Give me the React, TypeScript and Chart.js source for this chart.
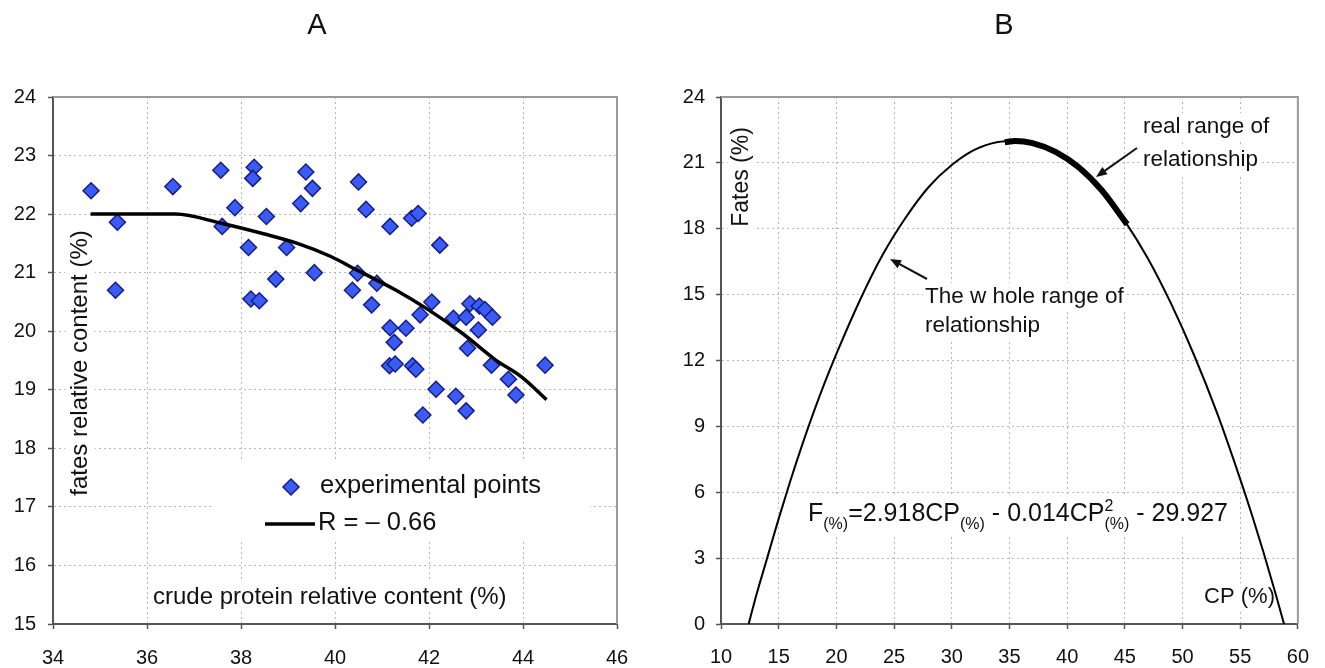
import React, { useEffect, useRef } from "react";
import { Chart, registerables } from "chart.js";

Chart.register(...registerables);

const FONT = "'Liberation Sans', Arial, Helvetica, sans-serif";

// ---------- Panel A data ----------
const crudeProtein = [
  34.81, 35.37, 35.33, 36.55, 37.57, 37.6, 37.87, 38.28, 38.25, 38.16, 38.21, 38.39, 38.54, 38.74,
  38.97, 39.38, 39.52, 39.27, 39.56, 40.37, 40.5, 40.66, 41.17, 41.63, 41.77, 42.23, 40.48, 40.89,
  40.78, 41.17, 41.51, 41.26, 41.81, 42.06, 42.52, 42.79, 42.87, 43.07, 43.19, 43.35, 43.05, 42.82,
  41.16, 41.28, 41.65, 41.72, 43.33, 44.47, 43.69, 43.85, 42.15, 42.57, 42.79, 41.87,
];
const fatesContent = [
  22.4, 21.86, 20.7, 22.47, 22.75, 21.79, 22.11, 22.8, 22.61, 21.43, 20.55, 20.52, 21.96, 20.89,
  21.43, 22.72, 22.44, 22.18, 21.0, 20.7, 22.55, 22.08, 21.79, 21.93, 22.01, 21.47, 20.99, 20.82,
  20.45, 20.06, 20.05, 19.81, 20.28, 20.5, 20.22, 20.24, 20.47, 20.43, 20.37, 20.24, 20.02, 19.71,
  19.41, 19.44, 19.41, 19.35, 19.42, 19.42, 19.18, 18.91, 19.01, 18.89, 18.64, 18.57,
];
const fitCP = [34.8, 36.6, 37.6, 38.5, 39.2, 39.9, 40.5, 41.3, 42.0, 42.7, 43.4, 44.0, 44.5];
const fitFates = [22.0, 22.0, 21.84, 21.66, 21.5, 21.28, 21.03, 20.7, 20.36, 19.97, 19.52, 19.2, 18.83];
const pointsLabel = "experimental points";
const fitLabel = "R = \u2013 0.66";

// ---------- Panel B data ----------
const wholeCP = [
  12.4, 13, 14, 15, 16, 17, 18, 19, 20, 22, 24, 26, 28, 30, 32, 34, 35.5, 37, 39, 41, 43, 45, 47, 49,
  51, 53, 55, 56, 57, 58, 58.8,
];
const wholeFates = [
  0, 1.2, 3.0, 4.8, 6.5, 8.1, 9.6, 11.0, 12.3, 14.7, 16.8, 18.5, 19.9, 20.9, 21.6, 21.95, 22.0, 21.9,
  21.5, 20.8, 19.75, 18.35, 16.65, 14.6, 12.25, 9.6, 6.6, 5.0, 3.3, 1.5, 0,
];
const realCP = [34.6, 35.5, 37, 39, 41, 43, 45.2];
const realFates = [21.94, 22.0, 21.9, 21.5, 20.8, 19.75, 18.2];

const MARKER_FILL = "#3b5cf2";
const MARKER_EDGE = "#161c8c";
const GRID = "#b8b8b8";
const AXIS = "#555555";
const FRAME = "#9a9a9a";

function pairs(xs: number[], ys: number[]) {
  return xs.map((x, i) => ({ x, y: ys[i] }));
}

function whiteText(ctx: CanvasRenderingContext2D, text: string, x: number, yc: number, size: number, align: CanvasTextAlign = "left") {
  ctx.save();
  ctx.font = `${size}px ${FONT}`;
  const w = ctx.measureText(text).width;
  const left = align === "left" ? x : align === "right" ? x - w : x - w / 2;
  ctx.fillStyle = "#fff";
  ctx.fillRect(left - 2, yc - size * 0.62, w + 4, size * 1.24);
  ctx.fillStyle = "#111";
  ctx.textAlign = "left";
  ctx.textBaseline = "middle";
  ctx.fillText(text, left, yc);
  ctx.restore();
}

function rotatedText(ctx: CanvasRenderingContext2D, text: string, cx: number, cy: number, size: number) {
  ctx.save();
  ctx.translate(cx, cy);
  ctx.rotate(-Math.PI / 2);
  ctx.font = `${size}px ${FONT}`;
  const w = ctx.measureText(text).width;
  ctx.fillStyle = "#fff";
  ctx.fillRect(-w / 2 - 2, -size * 0.62, w + 4, size * 1.24);
  ctx.fillStyle = "#111";
  ctx.textAlign = "center";
  ctx.textBaseline = "middle";
  ctx.fillText(text, 0, 0);
  ctx.restore();
}

function frame(chart: any) {
  const { ctx, chartArea: a } = chart;
  ctx.save();
  ctx.strokeStyle = FRAME;
  ctx.lineWidth = 2;
  ctx.beginPath();
  ctx.moveTo(a.left, a.top);
  ctx.lineTo(a.right, a.top);
  ctx.lineTo(a.right, a.bottom);
  ctx.stroke();
  ctx.restore();
}

function title(ctx: CanvasRenderingContext2D, t: string, x: number, y: number) {
  ctx.save();
  ctx.font = `29px ${FONT}`;
  ctx.fillStyle = "#111";
  ctx.textAlign = "center";
  ctx.textBaseline = "middle";
  ctx.fillText(t, x, y);
  ctx.restore();
}

function arrow(ctx: CanvasRenderingContext2D, x1: number, y1: number, x2: number, y2: number) {
  const ang = Math.atan2(y2 - y1, x2 - x1);
  const L = 11;
  const Wd = 4.5;
  ctx.save();
  ctx.strokeStyle = "#111";
  ctx.fillStyle = "#111";
  ctx.lineWidth = 2;
  ctx.beginPath();
  ctx.moveTo(x1, y1);
  ctx.lineTo(x2 - Math.cos(ang) * L * 0.8, y2 - Math.sin(ang) * L * 0.8);
  ctx.stroke();
  ctx.beginPath();
  ctx.moveTo(x2, y2);
  ctx.lineTo(x2 - Math.cos(ang) * L - Math.sin(ang) * Wd, y2 - Math.sin(ang) * L + Math.cos(ang) * Wd);
  ctx.lineTo(x2 - Math.cos(ang) * L + Math.sin(ang) * Wd, y2 - Math.sin(ang) * L - Math.cos(ang) * Wd);
  ctx.closePath();
  ctx.fill();
  ctx.restore();
}

function drawEquation(ctx: CanvasRenderingContext2D, x: number, base: number) {
  const main = `25px ${FONT}`;
  const small = `16px ${FONT}`;
  const parts: [string, string, number][] = [
    ["F", main, 0],
    ["(%)", small, 8],
    ["=2.918CP", main, 0],
    ["(%)", small, 8],
    [" - 0.014CP", main, 0],
    ["(%)", small, 8],
    [" - 29.927", main, 0],
  ];
  ctx.save();
  let total = 0;
  for (const [t, f] of parts) {
    ctx.font = f;
    total += ctx.measureText(t).width;
  }
  ctx.fillStyle = "#fff";
  ctx.fillRect(x - 3, base - 25, total + 6, 38);
  ctx.fillStyle = "#111";
  ctx.textBaseline = "alphabetic";
  ctx.textAlign = "left";
  let cx = x;
  parts.forEach(([t, f, dy], i) => {
    ctx.font = f;
    if (i === 5) ctx.fillText("2", cx, base - 10);
    ctx.fillText(t, cx, base + dy);
    cx += ctx.measureText(t).width;
  });
  ctx.restore();
}

const pluginA = {
  id: "panelA",
  beforeDatasetsDraw(chart: any) {
    const ctx = chart.ctx as CanvasRenderingContext2D;
    frame(chart);
    ctx.save();
    ctx.fillStyle = "#fff";
    ctx.fillRect(212, 461, 378, 80);
    ctx.restore();
    ctx.save();
    ctx.fillStyle = MARKER_FILL;
    ctx.strokeStyle = MARKER_EDGE;
    ctx.lineWidth = 1.5;
    ctx.beginPath();
    ctx.moveTo(291, 487 - 8);
    ctx.lineTo(291 + 8, 487);
    ctx.lineTo(291, 487 + 8);
    ctx.lineTo(291 - 8, 487);
    ctx.closePath();
    ctx.fill();
    ctx.stroke();
    ctx.strokeStyle = "#000";
    ctx.lineWidth = 3.5;
    ctx.beginPath();
    ctx.moveTo(265, 524);
    ctx.lineTo(315, 524);
    ctx.stroke();
    ctx.restore();
    whiteText(ctx, pointsLabel, 320, 486, 25.5);
    whiteText(ctx, fitLabel, 318, 523, 25.5);
    whiteText(ctx, "crude protein relative content (%)", 153, 597, 24);
    rotatedText(ctx, "fates relative content (%)", 80, 363, 24);
  },
  afterDraw(chart: any) {
    title(chart.ctx, "A", 317, 26);
  },
};

const pluginB = {
  id: "panelB",
  beforeDatasetsDraw(chart: any) {
    const ctx = chart.ctx as CanvasRenderingContext2D;
    frame(chart);
    whiteText(ctx, "real range of", 481, 127, 22.5);
    whiteText(ctx, "relationship", 481, 160, 22.5);
    whiteText(ctx, "The w hole range of", 263, 297, 22.5);
    whiteText(ctx, "relationship", 263, 326, 22.5);
    whiteText(ctx, "CP (%)", 613, 597, 22, "right");
    rotatedText(ctx, "Fates (%)", 80, 177, 23);
    drawEquation(ctx, 146, 521);
  },
  afterDatasetsDraw(chart: any) {
    const ctx = chart.ctx as CanvasRenderingContext2D;
    arrow(ctx, 475, 148, 434, 177);
    arrow(ctx, 265, 279, 228, 259);
  },
  afterDraw(chart: any) {
    title(chart.ctx, "B", 342, 26);
  },
};

function axis(min: number, max: number, step: number, padding: number, fit: (s: any) => void) {
  return {
    type: "linear" as const,
    min,
    max,
    ticks: { stepSize: step, padding, color: "#111", font: { family: FONT, size: 20 } },
    grid: { color: GRID, lineWidth: 1, tickLength: 5, tickColor: AXIS, tickWidth: 1.5 },
    border: { display: true, color: AXIS, width: 2, dash: [2, 3] },
    afterFit: fit,
  };
}

function ChartA() {
  const ref = useRef<HTMLCanvasElement>(null);
  useEffect(() => {
    const chart = new Chart(ref.current!, {
      type: "scatter",
      data: {
        datasets: [
          {
            label: fitLabel,
            data: pairs(fitCP, fitFates),
            showLine: true,
            borderColor: "#000",
            borderWidth: 3.5,
            pointRadius: 0,
            cubicInterpolationMode: "monotone",
            order: 0,
          },
          {
            label: pointsLabel,
            data: pairs(crudeProtein, fatesContent),
            showLine: false,
            pointStyle: "rectRot",
            pointRadius: 8,
            pointBackgroundColor: MARKER_FILL,
            pointBorderColor: MARKER_EDGE,
            pointBorderWidth: 1.5,
            order: 1,
          },
        ],
      },
      options: {
        animation: false,
        responsive: false,
        events: [],
        layout: { padding: { left: 0, top: 97, right: 45, bottom: 0 } },
        plugins: { legend: { display: false }, tooltip: { enabled: false } },
        scales: {
          x: axis(34, 46, 2, 17, (s: any) => { s.height = 44; }),
          y: axis(15, 24, 1, 12, (s: any) => { s.width = 53; }),
        },
      } as any,
      plugins: [pluginA],
    });
    return () => chart.destroy();
  }, []);
  return <canvas ref={ref} width={662} height={668} style={{ position: "absolute", left: 0, top: 0, width: 662, height: 668 }} />;
}

function ChartB() {
  const ref = useRef<HTMLCanvasElement>(null);
  useEffect(() => {
    const chart = new Chart(ref.current!, {
      type: "scatter",
      data: {
        datasets: [
          {
            label: "real range of relationship",
            data: pairs(realCP, realFates),
            showLine: true,
            borderColor: "#000",
            borderWidth: 6,
            pointRadius: 0,
            cubicInterpolationMode: "monotone",
            order: 0,
          },
          {
            label: "The whole range of relationship",
            data: pairs(wholeCP, wholeFates),
            showLine: true,
            borderColor: "#000",
            borderWidth: 2,
            pointRadius: 0,
            cubicInterpolationMode: "monotone",
            order: 1,
          },
        ],
      },
      options: {
        animation: false,
        responsive: false,
        events: [],
        layout: { padding: { left: 0, top: 97, right: 13, bottom: 0 } },
        plugins: { legend: { display: false }, tooltip: { enabled: false } },
        scales: {
          x: axis(10, 60, 5, 16, (s: any) => { s.height = 44; }),
          y: axis(0, 24, 3, 11, (s: any) => { s.width = 59; }),
        },
      } as any,
      plugins: [pluginB],
    });
    return () => chart.destroy();
  }, []);
  return <canvas ref={ref} width={663} height={668} style={{ position: "absolute", left: 662, top: 0, width: 663, height: 668 }} />;
}

export default function App() {
  return (
    <div style={{ position: "absolute", left: 0, top: 0, width: 1325, height: 668, background: "#fff", overflow: "hidden" }}>
      <ChartA />
      <ChartB />
    </div>
  );
}
